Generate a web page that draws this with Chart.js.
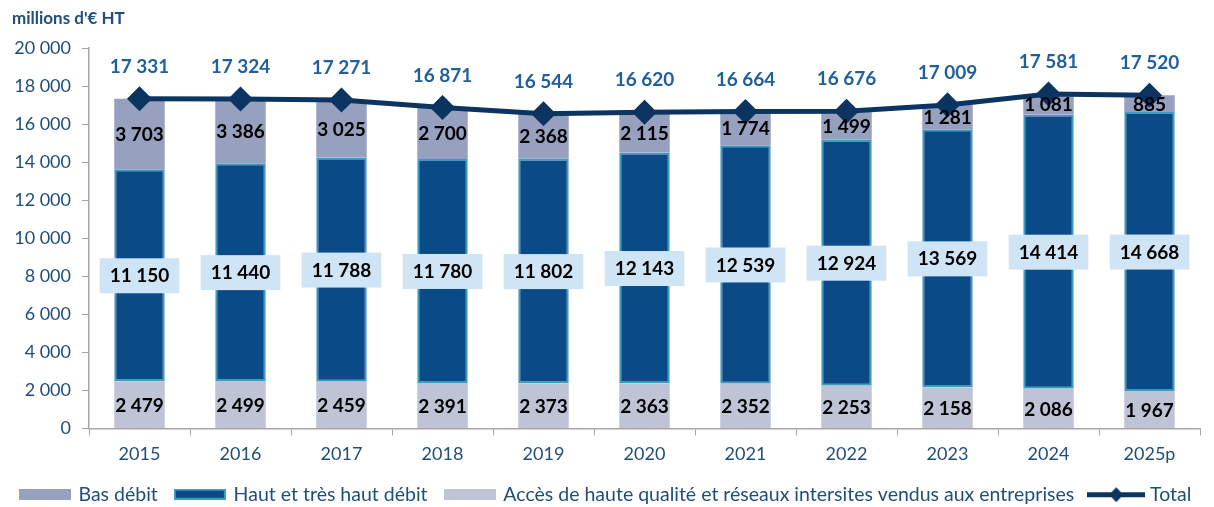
<!DOCTYPE html>
<html>
<head>
<meta charset="utf-8">
<script src="https://cdn.jsdelivr.net/npm/chart.js@4"></script>
<style>
  html, body { margin: 0; padding: 0; background: #fff; }
  #wrap { width: 1214px; height: 507px; }
</style>
</head>
<body>
<div id="wrap"><canvas id="chart"></canvas></div>
<script>
const annees = ['2015', '2016', '2017', '2018', '2019', '2020', '2021', '2022', '2023', '2024', '2025p'];
const basDebit = [3703, 3386, 3025, 2700, 2368, 2115, 1774, 1499, 1281, 1081, 885];
const hautDebit = [11150, 11440, 11788, 11780, 11802, 12143, 12539, 12924, 13569, 14414, 14668];
const accesEntreprises = [2479, 2499, 2459, 2391, 2373, 2363, 2352, 2253, 2158, 2086, 1967];
const totaux = [17331, 17324, 17271, 16871, 16544, 16620, 16664, 16676, 17009, 17581, 17520];
const yTicks = [0, 2000, 4000, 6000, 8000, 10000, 12000, 14000, 16000, 18000, 20000];

const FONT = 'Lato, "Open Sans", sans-serif';
const BLEU_TEXTE = '#1F4E79';
const BLEU_TOTAL = '#1F5F9E';
const GRIS_AXE = '#A6A6A6';

function fmt(v) {
  return String(v).replace(/\B(?=(\d{3})+(?!\d))/g, ' ');
}

// legend swatches
function swatch(fill, border) {
  const c = document.createElement('canvas');
  c.width = 52; c.height = 11;
  const g = c.getContext('2d');
  g.fillStyle = fill;
  g.fillRect(0, 0, 52, 11);
  if (border) {
    g.strokeStyle = border;
    g.lineWidth = 2;
    g.strokeRect(1, 1, 50, 9);
  }
  return c;
}
function swatchLigne() {
  const c = document.createElement('canvas');
  c.width = 58; c.height = 16;
  const g = c.getContext('2d');
  g.fillStyle = '#0B3461';
  g.fillRect(0, 6, 58, 5);
  g.beginPath();
  g.moveTo(29, 1); g.lineTo(36, 8.5); g.lineTo(29, 16); g.lineTo(22, 8.5);
  g.closePath();
  g.fill();
  return c;
}
const legendStyles = [
  swatch('#BFC3D6'),
  swatch('#0A4A86', '#3E9BC0'),
  swatch('#97A1BF'),
  swatchLigne()
];
const legendRank = [2, 1, 0, 3];

const etiquettes = {
  id: 'etiquettes',
  afterDraw(chart) {
    const ctx = chart.ctx;
    ctx.save();
    // titre
    ctx.font = 'bold 17px ' + FONT;
    ctx.fillStyle = BLEU_TEXTE;
    ctx.textAlign = 'left';
    ctx.textBaseline = 'alphabetic';
    ctx.fillText("millions d'€ HT", 12, 24);

    ctx.textAlign = 'center';
    ctx.textBaseline = 'middle';
    ctx.font = 'bold 19px ' + FONT;
    [0, 1, 2].forEach(di => {
      const meta = chart.getDatasetMeta(di);
      const data = chart.data.datasets[di].data;
      meta.data.forEach((bar, i) => {
        const y = (bar.y + bar.base) / 2;
        const txt = fmt(data[i]);
        if (di === 1) {
          const w = ctx.measureText(txt).width + 20;
          ctx.fillStyle = '#CFE4F5';
          ctx.fillRect(bar.x - w / 2, y - 17, w, 35);
        }
        ctx.fillStyle = '#000';
        ctx.fillText(txt, bar.x, y + 1);
      });
    });
    const metaT = chart.getDatasetMeta(3);
    ctx.fillStyle = BLEU_TOTAL;
    metaT.data.forEach((pt, i) => {
      ctx.fillText(fmt(totaux[i]), pt.x, pt.y - 32);
    });
    ctx.restore();
  }
};

new Chart(document.getElementById('chart'), {
  data: {
    labels: annees,
    datasets: [
      {
        type: 'bar',
        label: 'Accès de haute qualité et réseaux intersites vendus aux entreprises',
        data: accesEntreprises,
        backgroundColor: '#BFC3D6',
        stack: 'barres',
        barPercentage: 0.5,
        categoryPercentage: 1
      },
      {
        type: 'bar',
        label: 'Haut et très haut débit',
        data: hautDebit,
        backgroundColor: '#0A4A86',
        borderColor: '#3E9BC0',
        borderWidth: 2,
        borderSkipped: false,
        stack: 'barres',
        barPercentage: 0.5,
        categoryPercentage: 1
      },
      {
        type: 'bar',
        label: 'Bas débit',
        data: basDebit,
        backgroundColor: '#97A1BF',
        stack: 'barres',
        barPercentage: 0.5,
        categoryPercentage: 1
      },
      {
        type: 'line',
        label: 'Total',
        data: totaux,
        stack: 'total',
        order: -1,
        borderColor: '#0B3461',
        backgroundColor: '#0B3461',
        borderWidth: 5,
        pointStyle: 'rectRot',
        pointRadius: 9,
        pointHoverRadius: 9,
        tension: 0
      }
    ]
  },
  options: {
    responsive: true,
    maintainAspectRatio: false,
    animation: false,
    layout: { padding: { top: 48, right: 2, left: 0, bottom: -7 } },
    scales: {
      x: {
        stacked: true,
        border: { display: true, color: GRIS_AXE, width: 1.5 },
        grid: { drawOnChartArea: false, color: GRIS_AXE, tickLength: 7, offset: true },
        ticks: { color: BLEU_TEXTE, font: { family: FONT, size: 18 }, padding: 8 },
        afterFit(scale) { scale.height = 38; }
      },
      y: {
        stacked: true,
        min: 0,
        max: 20000,
        border: { display: true, color: GRIS_AXE, width: 1.5 },
        grid: { drawOnChartArea: false, color: GRIS_AXE, tickLength: 7 },
        afterBuildTicks(scale) { scale.ticks = yTicks.map(v => ({ value: v })); },
        ticks: {
          color: BLEU_TEXTE,
          font: { family: FONT, size: 18 },
          padding: 11,
          callback: v => fmt(v)
        },
        afterFit(scale) { scale.width = 89; }
      }
    },
    plugins: {
      tooltip: { enabled: false },
      legend: {
        position: 'bottom',
        labels: {
          color: BLEU_TEXTE,
          font: { family: FONT, size: 19.5 },
          usePointStyle: true,
          pointStyleWidth: 48,
          boxHeight: 12,
          padding: 18,
          generateLabels(chart) {
            return chart.data.datasets.map((ds, i) => ({
              text: ds.label,
              datasetIndex: i,
              pointStyle: legendStyles[i],
              fontColor: BLEU_TEXTE,
              hidden: false,
              lineWidth: 0
            }));
          },
          sort: (a, b) => legendRank[a.datasetIndex] - legendRank[b.datasetIndex]
        }
      }
    }
  },
  plugins: [etiquettes]
});
</script>
</body>
</html>
